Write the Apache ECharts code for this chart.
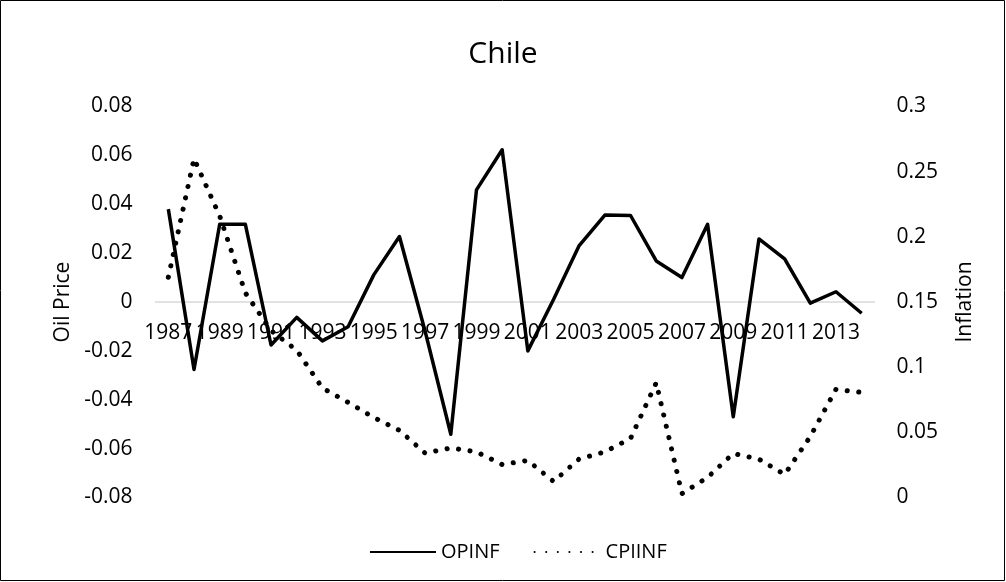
<!DOCTYPE html>
<html>
<head>
<meta charset="utf-8">
<script src="https://cdn.jsdelivr.net/npm/echarts@6/dist/echarts.min.js"></script>
<style>
  html, body { margin: 0; padding: 0; background: #fff; }
  #chart { width: 1006px; height: 582px; }
</style>
</head>
<body>
<div id="chart"></div>
<script>
// Years on the category axis
const years = ['1987','1988','1989','1990','1991','1992','1993','1994','1995','1996',
  '1997','1998','1999','2000','2001','2002','2003','2004','2005','2006',
  '2007','2008','2009','2010','2011','2012','2013','2014'];

// Oil price inflation (left axis)
const opinf = [0.038, -0.0276, 0.0318, 0.0318, -0.0176, -0.0063, -0.0159, -0.0101, 0.0111, 0.0268,
  -0.012, -0.0541, 0.0459, 0.0623, -0.0200, 0.0010, 0.0231, 0.0356, 0.0354, 0.0168,
  0.0100, 0.0318, -0.0470, 0.0258, 0.0176, -0.0005, 0.0042, -0.0046];

// Consumer price inflation (right axis)
const cpiinf = [0.169, 0.26, 0.216, 0.157, 0.128, 0.113, 0.084, 0.073, 0.0614, 0.0515,
  0.034, 0.038, 0.035, 0.0253, 0.0284, 0.0123, 0.0296, 0.035, 0.0453, 0.088,
  0.003, 0.0154, 0.0338, 0.0294, 0.0177, 0.0468, 0.083, 0.0806];

const leftTicks = { min: -0.08, max: 0.08, step: 0.02 };
const rightTicks = { min: 0, max: 0.3, step: 0.05 };

const FONT = '"Open Sans", "Noto Sans", sans-serif';
const GRID = { left: 155.5, right: 131.5, top: 106.5, bottom: 84.5 };
const CHART_H = 582;

// The year axis sits on the zero line of the left axis
const plotH = CHART_H - GRID.top - GRID.bottom;
const zeroFrac = (leftTicks.max - 0) / (leftTicks.max - leftTicks.min);
const xAxisOffset = -(plotH * (1 - zeroFrac));

const chart = echarts.init(document.getElementById('chart'), null, { renderer: 'canvas' });

const fmt = v => String(+v.toFixed(4));

chart.setOption({
  animation: false,
  backgroundColor: '#fff',
  textStyle: { fontFamily: FONT, color: '#000' },
  graphic: [{
    type: 'rect',
    shape: { x: 0.5, y: 0.5, width: 1004, height: 580 },
    style: { fill: 'none', stroke: '#000', lineWidth: 1 },
    silent: true
  }],
  title: {
    text: 'Chile',
    left: 'center',
    top: 34,
    textStyle: { fontFamily: FONT, fontSize: 30, fontWeight: 'normal', color: '#000' }
  },
  grid: Object.assign({ containLabel: false }, GRID),
  legend: {
    data: ['OPINF', 'CPIINF'],
    left: 364,
    top: 537,
    itemWidth: 66,
    itemHeight: 14,
    itemGap: 34,
    itemStyle: { opacity: 0 },
    textStyle: { fontFamily: FONT, fontSize: 20, color: '#000' }
  },
  xAxis: {
    type: 'category',
    data: years,
    boundaryGap: true,
    offset: xAxisOffset,
    axisLine: { onZero: false, lineStyle: { color: '#d9d9d9', width: 1.5 } },
    axisTick: { show: false },
    axisLabel: { interval: 1, fontSize: 21, color: '#000', margin: 21, fontFamily: FONT },
    splitLine: { show: false }
  },
  yAxis: [{
    type: 'value',
    min: leftTicks.min, max: leftTicks.max, interval: leftTicks.step,
    name: 'Oil Price',
    nameLocation: 'middle',
    nameRotate: 90,
    nameGap: 80,
    nameTextStyle: { fontFamily: FONT, fontSize: 21, color: '#000' },
    axisLine: { show: false },
    axisTick: { show: false },
    splitLine: { show: false },
    axisLabel: { fontSize: 21, color: '#000', margin: 23, formatter: fmt, fontFamily: FONT }
  }, {
    type: 'value',
    position: 'right',
    min: rightTicks.min, max: rightTicks.max, interval: rightTicks.step,
    name: 'Inflation',
    nameLocation: 'middle',
    nameRotate: 90,
    nameGap: 80,
    nameTextStyle: { fontFamily: FONT, fontSize: 21, color: '#000' },
    axisLine: { show: false },
    axisTick: { show: false },
    splitLine: { show: false },
    axisLabel: { fontSize: 21, color: '#000', margin: 22, formatter: fmt, fontFamily: FONT }
  }],
  series: [{
    name: 'OPINF',
    type: 'line',
    yAxisIndex: 0,
    data: opinf,
    symbol: 'none',
    color: '#000',
    lineStyle: { color: '#000', width: 3.5, join: 'round' }
  }, {
    name: 'CPIINF',
    type: 'line',
    yAxisIndex: 1,
    data: cpiinf,
    symbol: 'none',
    color: '#000',
    lineStyle: { color: '#000', width: 5, type: [0.1, 11.5], cap: 'round', join: 'round' }
  }]
});
</script>
</body>
</html>
